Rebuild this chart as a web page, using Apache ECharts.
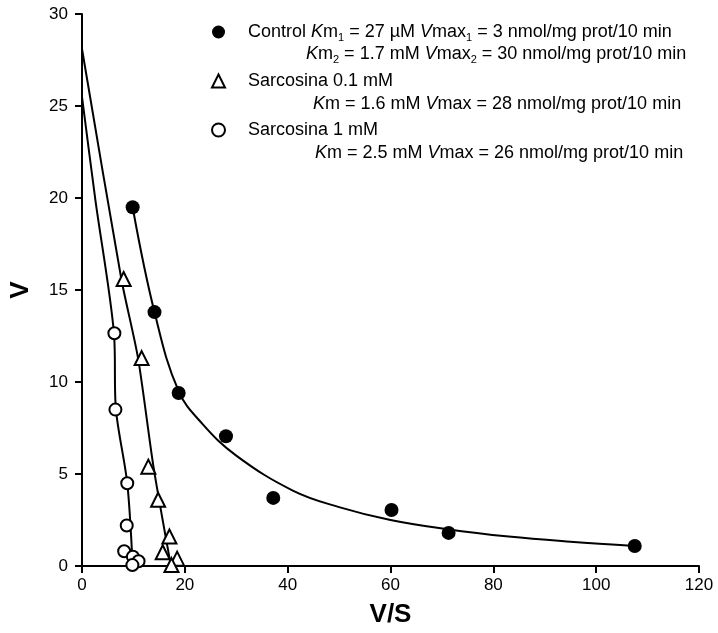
<!DOCTYPE html>
<html><head><meta charset="utf-8">
<script src="https://cdn.jsdelivr.net/npm/echarts@6/dist/echarts.min.js"></script>
<style>html,body{margin:0;padding:0;background:#fff}#c{width:718px;height:633px}</style>
</head><body><div id="c"></div>
<script>
// ---- data ----
const seriesNames = ['Control', 'Sarcosina 0.1 mM', 'Sarcosina 1 mM'];

const controlVS = [9.85, 14.1, 18.8, 28.0, 37.2, 60.2, 71.3, 107.5];
const controlV  = [19.5, 13.8, 9.4, 7.05, 3.7, 3.04, 1.8, 1.09];

const sarc01VS = [8.1, 11.6, 12.9, 14.8, 17.0, 15.7, 18.5, 17.4];
const sarc01V  = [15.6, 11.3, 5.4, 3.6, 1.6, 0.75, 0.4, 0.05];

const sarc1VS = [6.3, 6.5, 8.8, 8.7, 8.2, 9.9, 11.0, 9.8];
const sarc1V  = [12.65, 8.5, 4.5, 2.2, 0.8, 0.5, 0.26, 0.05];

// fitted curves as drawn in the reference
const controlFitVS = [9.85, 14.1, 18.8, 23.5, 30, 41, 50, 60, 71, 83, 95, 107.5];
const controlFitV  = [19.5, 13.8, 9.5, 7.7, 6.0, 4.1, 3.2, 2.5, 2.0, 1.6, 1.32, 1.09];

const sarc01FitVS = [0, 7.65, 10.9, 13.9, 17.3];
const sarc01FitV  = [28.1, 15.6, 11.3, 5.4, 0];

const sarc1FitVS = [0, 2.6, 6.2, 6.6, 8.8, 9.85];
const sarc1FitV  = [25.5, 19.9, 12.7, 8.5, 4.5, 0];

const xTicks = [0, 20, 40, 60, 80, 100, 120];
const yTicks = [0, 5, 10, 15, 20, 25, 30];

const legendLine1 = {
  'Control': 'Control {i|K}m{sub|1} = 27 µM {i|V}max{sub|1} = 3 nmol/mg prot/10 min',
  'Sarcosina 0.1 mM': 'Sarcosina 0.1 mM',
  'Sarcosina 1 mM': 'Sarcosina 1 mM'
};
const legendLine2 = [
  '{i|K}m{sub|2} = 1.7 mM {i|V}max{sub|2} = 30 nmol/mg prot/10 min',
  '{i|K}m = 1.6 mM {i|V}max = 28 nmol/mg prot/10 min',
  '{i|K}m = 2.5 mM {i|V}max = 26 nmol/mg prot/10 min'
];

// ---- helpers ----
const FF = '"Liberation Sans", Arial, Helvetica, sans-serif';
const pairs = (xs, ys) => xs.map((x, i) => [x, ys[i]]);
const rich = {
  i: {fontStyle: 'italic', fontSize: 18, fontFamily: FF, color: '#000'},
  sub: {fontSize: 11, fontFamily: FF, color: '#000', lineHeight: 10, verticalAlign: 'bottom'}
};

const chart = echarts.init(document.getElementById('c'), null, {renderer: 'canvas'});
const lineStyle = {color: '#000', width: 2};
const hollow = {color: '#fff', borderColor: '#000', borderWidth: 2, opacity: 1};

chart.setOption({
  backgroundColor: '#fff',
  animation: false,
  grid: {left: 79, right: 19, top: 14, bottom: 67, containLabel: false},
  xAxis: {
    type: 'value', min: xTicks[0], max: xTicks[xTicks.length - 1], interval: xTicks[1] - xTicks[0],
    name: 'V/S', nameLocation: 'middle', nameGap: 36,
    nameTextStyle: {fontSize: 26, fontWeight: 'bold', fontFamily: FF, color: '#000'},
    axisLine: {lineStyle: {color: '#000', width: 2}},
    axisTick: {length: 7, lineStyle: {color: '#000', width: 2}},
    axisLabel: {fontSize: 17, fontFamily: FF, color: '#000', margin: 11},
    splitLine: {show: false}
  },
  yAxis: {
    type: 'value', min: yTicks[0], max: yTicks[yTicks.length - 1], interval: yTicks[1] - yTicks[0],
    name: 'V', nameLocation: 'middle', nameGap: 48,
    nameTextStyle: {fontSize: 26, fontWeight: 'bold', fontFamily: FF, color: '#000'},
    axisLine: {show: true, lineStyle: {color: '#000', width: 2}},
    axisTick: {show: true, length: 7, lineStyle: {color: '#000', width: 2}},
    axisLabel: {fontSize: 17, fontFamily: FF, color: '#000', margin: 14},
    splitLine: {show: false}
  },
  legend: {
    data: [
      {name: seriesNames[0], icon: 'circle', itemStyle: {color: '#000', borderWidth: 0, opacity: 1}},
      {name: seriesNames[1], icon: 'triangle', itemStyle: hollow},
      {name: seriesNames[2], icon: 'circle', itemStyle: hollow}
    ],
    orient: 'vertical', left: 211, top: 21, padding: 0,
    itemWidth: 13, itemHeight: 13, itemGap: 27,
    textStyle: {fontSize: 18, fontFamily: FF, color: '#000', lineHeight: 22, padding: [0, 0, 0, 18], rich: rich},
    formatter: name => legendLine1[name],
    selectedMode: false
  },
  graphic: legendLine2.map((t, k) => ({
    type: 'text',
    x: [306, 313, 315][k],
    y: [54, 104, 153][k],
    style: {text: t, fontSize: 18, fontFamily: FF, fill: '#000', lineHeight: 22, verticalAlign: 'middle', rich: rich}
  })),
  series: [
    {name: seriesNames[0] + ' fit', type: 'line', data: pairs(controlFitVS, controlFitV), showSymbol: false, symbol: 'none',
     smooth: 0.4, lineStyle: lineStyle, z: 2, silent: true},
    {name: seriesNames[1] + ' fit', type: 'line', data: pairs(sarc01FitVS, sarc01FitV), showSymbol: false, symbol: 'none',
     smooth: 0.25, lineStyle: lineStyle, z: 2, silent: true},
    {name: seriesNames[2] + ' fit', type: 'line', data: pairs(sarc1FitVS, sarc1FitV), showSymbol: false, symbol: 'none',
     smooth: 0.3, lineStyle: lineStyle, z: 2, silent: true},
    {name: seriesNames[0], type: 'scatter', data: pairs(controlVS, controlV), symbol: 'circle', symbolSize: 14,
     itemStyle: {color: '#000', opacity: 1}, z: 5},
    {name: seriesNames[1], type: 'scatter', data: pairs(sarc01VS, sarc01V), symbol: 'triangle', symbolSize: 14,
     itemStyle: hollow, z: 6},
    {name: seriesNames[2], type: 'scatter', data: pairs(sarc1VS, sarc1V), symbol: 'circle', symbolSize: 12,
     itemStyle: hollow, z: 6}
  ]
});
</script>
</body></html>
